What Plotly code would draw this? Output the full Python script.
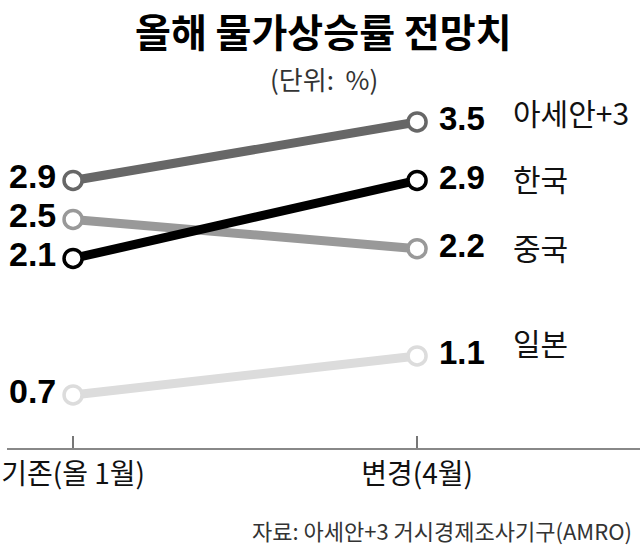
import plotly.graph_objects as go

periods = ["기존(올 1월)", "변경(4월)"]
series_names = ["일본", "중국", "아세안+3", "한국"]
before = [0.7, 2.5, 2.9, 2.1]
after = [1.1, 2.2, 3.5, 2.9]
colors = ["#dcdcdc", "#999999", "#676767", "#000000"]

title_text = "올해 물가상승률 전망치"
unit_text = "(단위:  %)"
source_text = "자료: 아세안+3 거시경제조사기구(AMRO)"

KR = "Noto Sans CJK KR"
NUM = "Liberation Sans"

fig = go.Figure()
xs = [0, 1]
for name, b, a, c in zip(series_names, before, after, colors):
    fig.add_trace(go.Scatter(
        x=xs, y=[b, a], mode="lines+markers", name=name,
        line=dict(color=c, width=9),
        marker=dict(size=18, color="white", line=dict(color=c, width=3.5)),
        hoverinfo="skip", showlegend=False, cliponaxis=False,
    ))

annotations = []
name_shift = {"일본": 14, "중국": 2, "아세안+3": 10, "한국": 2}
for name, b, a in zip(series_names, before, after):
    annotations.append(dict(x=0, y=b, xref="x", yref="y", text=f"<b>{b:.1f}</b>",
                            showarrow=False, xanchor="right", yanchor="middle",
                            xshift=-15, yshift=4,
                            font=dict(family=NUM, size=34, color="#000")))
    annotations.append(dict(x=1, y=a, xref="x", yref="y", text=f"<b>{a:.1f}</b>",
                            showarrow=False, xanchor="left", yanchor="middle",
                            xshift=20, yshift=3,
                            font=dict(family=NUM, size=33, color="#000")))
    annotations.append(dict(x=1, y=a, xref="x", yref="y", text=name,
                            showarrow=False, xanchor="left", yanchor="middle",
                            xshift=94, yshift=name_shift[name],
                            font=dict(family=KR, size=30, color="#111")))

annotations.append(dict(x=0.5, y=1.0, xref="paper", yref="paper", text=f"<b>{title_text}</b>",
                        showarrow=False, xanchor="center", yanchor="middle",
                        yshift=40, font=dict(family=KR, size=39, color="#000")))
annotations.append(dict(x=0.5, y=1.0, xref="paper", yref="paper", text=unit_text,
                        showarrow=False, xanchor="center", yanchor="middle",
                        yshift=-8, font=dict(family=KR, size=26, color="#333")))
annotations.append(dict(x=1.0, y=0, xref="paper", yref="paper", text=source_text,
                        showarrow=False, xanchor="right", yanchor="middle",
                        xshift=-6, yshift=-82, font=dict(family=KR, size=22, color="#333")))

fig.update_layout(
    width=640, height=554,
    margin=dict(l=7, r=0, t=70, b=106),
    paper_bgcolor="white", plot_bgcolor="white",
    annotations=annotations,
    xaxis=dict(range=[-0.192, 1.648], tickvals=xs, ticktext=periods,
               showgrid=False, zeroline=False, showline=True, linecolor="#888",
               linewidth=2, ticks="inside", ticklen=12, tickwidth=2, tickcolor="#777",
               tickfont=dict(family=KR, size=28, color="#111"), fixedrange=True),
    yaxis=dict(range=[0.156, 4.033], visible=False, fixedrange=True),
)

fig.write_html("out.html")
